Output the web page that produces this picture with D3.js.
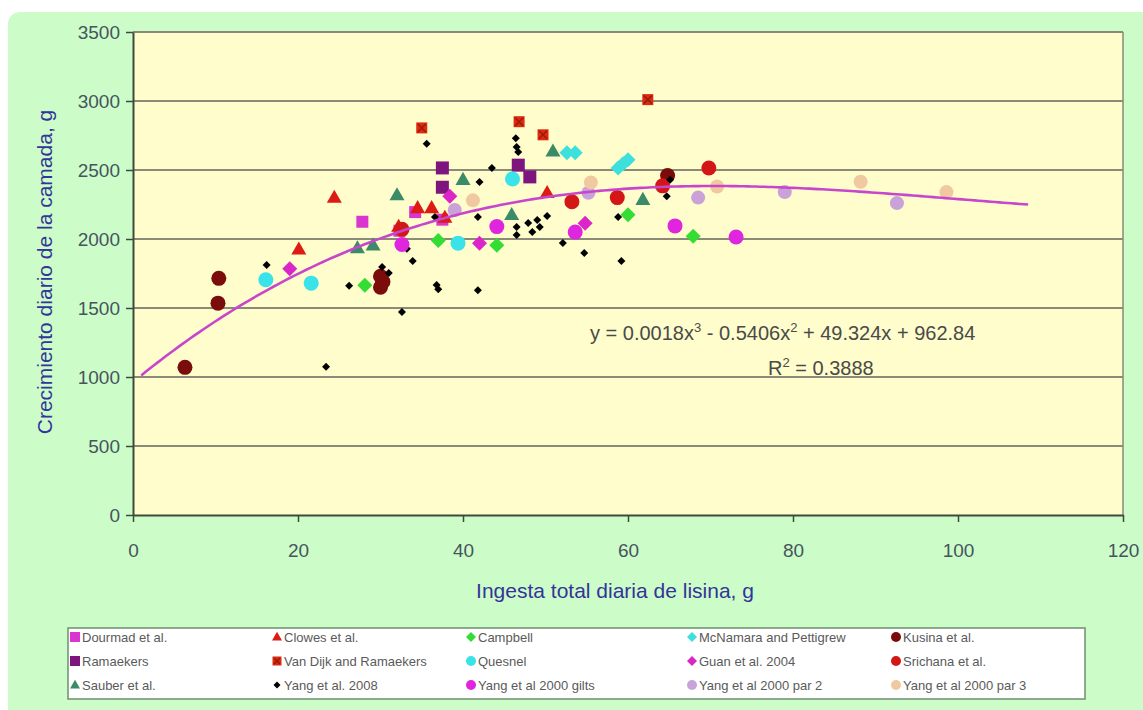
<!DOCTYPE html>
<html>
<head>
<meta charset="utf-8">
<script src="https://cdn.jsdelivr.net/npm/d3@7"></script>
<style>
  html, body { margin: 0; padding: 0; background: #ffffff; }
  svg { display: block; font-family: Arial, "Liberation Sans", sans-serif; }
</style>
</head>
<body>
<svg id="chart" width="1143" height="710"></svg>
<script>
// ---- data -------------------------------------------------------------
const xTicks = [0, 20, 40, 60, 80, 100, 120];
const yTicks = [0, 500, 1000, 1500, 2000, 2500, 3000, 3500];

const seriesNames = [
  "Dourmad et al.", "Clowes et al.", "Campbell", "McNamara and Pettigrew", "Kusina et al.",
  "Ramaekers", "Van Dijk and Ramaekers", "Quesnel", "Guan et al. 2004", "Srichana et al.",
  "Sauber et al.", "Yang et al. 2008", "Yang et al 2000 gilts", "Yang et al 2000 par 2", "Yang et al 2000 par 3"
];

const dourmad   = [[27.8, 2125], [34.2, 2195], [37.5, 2140], [32.3, 2060]];
const clowes    = [[20.1, 1925], [24.4, 2300], [32.2, 2090], [34.5, 2225], [36.2, 2225], [37.8, 2155], [50.2, 2335]];
const campbell  = [[28.1, 1665], [37.0, 1990], [44.1, 1955], [60.0, 2175], [67.9, 2020]];
const mcnamara  = [[52.6, 2625], [53.6, 2625], [58.8, 2515], [59.4, 2545], [60.0, 2575]];
const kusina    = [[6.3, 1070], [10.4, 1715], [10.3, 1535], [30.0, 1730], [30.0, 1650], [30.3, 1690], [64.8, 2460]];
const ramaekers = [[37.5, 2515], [37.5, 2375], [46.7, 2535], [48.1, 2450]];
const vanDijk   = [[35.0, 2805], [46.8, 2850], [49.7, 2755], [62.4, 3010]];
const quesnel   = [[16.1, 1705], [21.6, 1680], [39.4, 1970], [46.0, 2435]];
const guan      = [[19.0, 1785], [38.4, 2310], [42.0, 1970], [54.8, 2115]];
const srichana  = [[32.6, 2070], [53.2, 2270], [58.7, 2300], [64.2, 2385], [69.8, 2515]];
const sauber    = [[27.2, 1935], [29.1, 1955], [32.0, 2318], [40.0, 2430], [45.9, 2175], [50.9, 2635], [61.8, 2285]];
const yang2008  = [
  [16.2, 1812], [23.4, 1075], [26.2, 1662], [30.2, 1797], [31.0, 1754], [32.6, 1471], [33.2, 1930],
  [33.9, 1840], [35.6, 2690], [36.6, 2160], [36.8, 1667], [37.0, 1635], [41.8, 2160], [41.8, 1628],
  [42.0, 2413], [43.5, 2514], [46.4, 2730], [46.5, 2667], [46.7, 2630], [46.5, 2087], [46.5, 2029],
  [47.9, 2116], [48.4, 2050], [49.0, 2138], [49.3, 2087], [50.2, 2167], [52.1, 1971], [54.7, 1899],
  [58.8, 2160], [59.2, 1840], [64.7, 2310], [65.1, 2430]
];
const yangGilts = [[32.6, 1960], [44.1, 2090], [53.6, 2050], [65.7, 2095], [73.1, 2015]];
const yangPar2  = [[39.0, 2210], [55.2, 2335], [68.5, 2300], [79.0, 2340], [92.6, 2260]];
const yangPar3  = [[41.2, 2280], [55.5, 2410], [70.8, 2380], [88.2, 2415], [98.6, 2340]];

// polynomial trend: y = a x^3 + b x^2 + c x + d
const trendCoef = [0.0018, -0.5406, 49.324, 962.84];
const trendRange = [1, 108.5];
const trendLabel = "y = 0.0018x³ - 0.5406x² + 49.324x + 962.84";
const r2Label = "R² = 0.3888";

// ---- styling per series ----------------------------------------------
const styles = [
  { data: dourmad,   shape: "square",   color: "#d935cf", size: 12 },
  { data: clowes,    shape: "triangle", color: "#dd1a14", size: 15 },
  { data: campbell,  shape: "diamond",  color: "#33dd33", size: 15 },
  { data: mcnamara,  shape: "diamond",  color: "#3ee0de", size: 15 },
  { data: kusina,    shape: "circle",   color: "#7a0c0c", size: 15 },
  { data: ramaekers, shape: "square",   color: "#7e157e", size: 13 },
  { data: vanDijk,   shape: "xsquare",  color: "#dd2a10", size: 11 },
  { data: quesnel,   shape: "circle",   color: "#3ae2ea", size: 15 },
  { data: guan,      shape: "diamond",  color: "#dc25c8", size: 15 },
  { data: srichana,  shape: "circle",   color: "#d31616", size: 15 },
  { data: sauber,    shape: "triangle", color: "#3b8a68", size: 15 },
  { data: yang2008,  shape: "diamond",  color: "#000000", size: 8 },
  { data: yangGilts, shape: "circle",   color: "#e025de", size: 15 },
  { data: yangPar2,  shape: "circle",   color: "#c9a2da", size: 14 },
  { data: yangPar3,  shape: "circle",   color: "#f1c9a0", size: 14 }
];

// ---- layout -----------------------------------------------------------
const svg = d3.select("#chart");
const plot = { left: 133, top: 32, right: 1123, bottom: 515 };

const x = d3.scaleLinear().domain([0, 120]).range([plot.left, plot.right]);
const y = d3.scaleLinear().domain([0, 3500]).range([plot.bottom, plot.top]);

// outer green panel
svg.append("rect")
  .attr("x", 8).attr("y", 12).attr("width", 1160).attr("height", 720)
  .attr("rx", 12).attr("fill", "#ccfdc8");

// plot area
svg.append("rect")
  .attr("x", plot.left).attr("y", plot.top)
  .attr("width", plot.right - plot.left).attr("height", plot.bottom - plot.top)
  .attr("fill", "#fefdcb");

// horizontal grid lines
svg.append("g").selectAll("line")
  .data(yTicks.filter(v => v > 0))
  .join("line")
  .attr("x1", plot.left).attr("x2", plot.right)
  .attr("y1", d => y(d)).attr("y2", d => y(d))
  .attr("stroke", "#8b8a78").attr("stroke-width", 2);

// right frame
svg.append("line")
  .attr("x1", plot.right).attr("x2", plot.right)
  .attr("y1", plot.top).attr("y2", plot.bottom)
  .attr("stroke", "#8b8a78").attr("stroke-width", 1.5);

// axes
const tickColor = "#47545e";
const fmt = d3.format("d");
const xAxis = svg.append("g")
  .attr("transform", `translate(0,${plot.bottom})`)
  .call(d3.axisBottom(x).tickValues(xTicks).tickFormat(fmt).tickSize(7).tickSizeOuter(0).tickPadding(22));
const yAxis = svg.append("g")
  .attr("transform", `translate(${plot.left},0)`)
  .call(d3.axisLeft(y).tickValues(yTicks).tickFormat(fmt).tickSize(7).tickSizeOuter(0).tickPadding(6));

[xAxis, yAxis].forEach(g => {
  g.select(".domain").attr("stroke", "#3d4a3d").attr("stroke-width", 2);
  g.selectAll(".tick line").attr("stroke", "#3d4a3d").attr("stroke-width", 1.5);
  g.selectAll(".tick text")
    .attr("fill", tickColor)
    .attr("font-size", 19)
    .attr("font-family", "Arial, 'Liberation Sans', sans-serif");
});
xAxis.selectAll(".tick text").attr("dy", "0.71em");

// axis titles
svg.append("text")
  .attr("x", 615).attr("y", 598)
  .attr("text-anchor", "middle")
  .attr("fill", "#34349a").attr("font-size", 21)
  .text("Ingesta total diaria de lisina, g");

svg.append("text")
  .attr("transform", "translate(52,272) rotate(-90)")
  .attr("text-anchor", "middle")
  .attr("fill", "#34349a").attr("font-size", 21)
  .text("Crecimiento diario de la camada, g");

// ---- markers ---------------------------------------------------------
function markerPath(shape, size) {
  const s = size;
  switch (shape) {
    case "circle":
      return d3.symbol(d3.symbolCircle, Math.PI * (s / 2) * (s / 2))();
    case "square":
    case "xsquare":
      return d3.symbol(d3.symbolSquare, s * s)();
    case "diamond": {
      const h = s / 2;
      return `M0,${-h}L${h},0L0,${h}L${-h},0Z`;
    }
    case "triangle": {
      const h = s * 0.87;
      return `M0,${-h * 0.6}L${s / 2},${h * 0.4}L${-s / 2},${h * 0.4}Z`;
    }
  }
}

function drawMarker(g, shape, color, size) {
  g.append("path").attr("d", markerPath(shape, size)).attr("fill", color);
  if (shape === "xsquare") {
    const h = size / 2 - 1.5;
    g.append("path")
      .attr("d", `M${-h},${-h}L${h},${h}M${h},${-h}L${-h},${h}`)
      .attr("stroke", "#9a1a08").attr("stroke-width", 1.5);
  }
}

const pointsLayer = svg.append("g");
styles.forEach(st => {
  pointsLayer.append("g").selectAll("g")
    .data(st.data)
    .join("g")
    .attr("transform", d => `translate(${x(d[0])},${y(d[1])})`)
    .each(function () { drawMarker(d3.select(this), st.shape, st.color, st.size); });
});

// ---- trend line --------------------------------------------------------
const poly = v => trendCoef[0] * v ** 3 + trendCoef[1] * v ** 2 + trendCoef[2] * v + trendCoef[3];
const trendPts = d3.range(trendRange[0], trendRange[1] + 0.01, 0.5).map(v => [v, poly(v)]);
svg.append("path")
  .datum(trendPts)
  .attr("d", d3.line().x(d => x(d[0])).y(d => y(d[1])))
  .attr("fill", "none")
  .attr("stroke", "#c846cc")
  .attr("stroke-width", 2.6);

// equation labels
const eq = svg.append("text")
  .attr("x", 590).attr("y", 340)
  .attr("fill", "#4a4a4a").attr("font-size", 20);
eq.append("tspan").text("y = 0.0018x");
eq.append("tspan").attr("dy", -8).attr("font-size", 13).text("3");
eq.append("tspan").attr("dy", 8).text(" - 0.5406x");
eq.append("tspan").attr("dy", -8).attr("font-size", 13).text("2");
eq.append("tspan").attr("dy", 8).text(" + 49.324x + 962.84");
eq.append("title").text(trendLabel);

const r2 = svg.append("text")
  .attr("x", 768).attr("y", 375)
  .attr("fill", "#4a4a4a").attr("font-size", 20);
r2.append("tspan").text("R");
r2.append("tspan").attr("dy", -8).attr("font-size", 13).text("2");
r2.append("tspan").attr("dy", 8).text(" = 0.3888");
r2.append("title").text(r2Label);

// ---- legend ------------------------------------------------------------
svg.append("rect")
  .attr("x", 68).attr("y", 628).attr("width", 1017).attr("height", 71)
  .attr("fill", "#ffffff").attr("stroke", "#6f8f6f").attr("stroke-width", 1.5);

const colX = [75, 277, 471, 692, 896];
const rowY = [637, 661, 685];
styles.forEach((st, i) => {
  const cx = colX[i % 5], cy = rowY[Math.floor(i / 5)];
  const g = svg.append("g").attr("transform", `translate(${cx},${cy})`);
  const lsize = st.shape === "diamond" && st.size < 10 ? 7 : (st.shape === "xsquare" ? 9 : 10);
  drawMarker(g, st.shape, st.color, lsize);
  svg.append("text")
    .attr("x", cx + 7).attr("y", cy + 4.5)
    .attr("fill", "#5a5a5a").attr("font-size", 13)
    .text(seriesNames[i]);
});
</script>
</body>
</html>
